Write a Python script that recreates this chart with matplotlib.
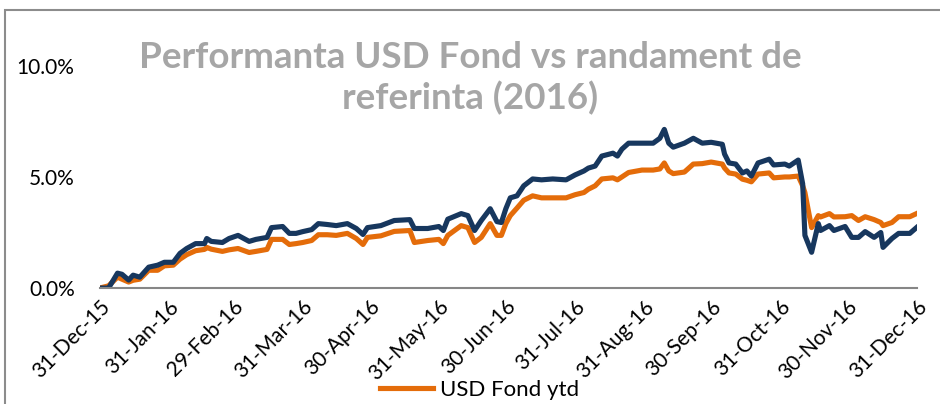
import matplotlib
matplotlib.use("Agg")
import matplotlib.pyplot as plt
import matplotlib.dates as mdates
import matplotlib.ticker as mticker
from matplotlib.patches import Rectangle
import pandas as pd

plt.rcParams['font.family'] = ['Lato', 'DejaVu Sans']

# date (randament ytd, %)
zile = ['2015-12-31', '2016-01-04', '2016-01-08', '2016-01-10', '2016-01-13', '2016-01-15',
        '2016-01-18', '2016-01-22', '2016-01-26', '2016-01-29', '2016-02-02', '2016-02-05',
        '2016-02-08', '2016-02-12', '2016-02-16', '2016-02-17', '2016-02-19', '2016-02-24',
        '2016-02-27', '2016-03-02', '2016-03-07', '2016-03-10', '2016-03-15', '2016-03-17',
        '2016-03-22', '2016-03-25', '2016-03-28', '2016-03-31', '2016-04-04', '2016-04-07',
        '2016-04-11', '2016-04-15', '2016-04-20', '2016-04-24', '2016-04-27', '2016-04-29',
        '2016-05-05', '2016-05-11', '2016-05-18', '2016-05-20', '2016-05-26', '2016-05-31',
        '2016-06-02', '2016-06-04', '2016-06-10', '2016-06-13', '2016-06-16', '2016-06-19',
        '2016-06-23', '2016-06-26', '2016-06-28', '2016-06-30', '2016-07-02', '2016-07-05',
        '2016-07-08', '2016-07-12', '2016-07-16', '2016-07-21', '2016-07-27', '2016-07-31',
        '2016-08-04', '2016-08-06', '2016-08-09', '2016-08-12', '2016-08-17', '2016-08-19',
        '2016-08-21', '2016-08-24', '2016-08-30', '2016-09-04', '2016-09-07', '2016-09-09',
        '2016-09-11', '2016-09-13', '2016-09-18', '2016-09-22', '2016-09-26', '2016-09-30',
        '2016-10-05', '2016-10-06', '2016-10-08', '2016-10-11', '2016-10-14', '2016-10-16',
        '2016-10-18', '2016-10-21', '2016-10-26', '2016-10-28', '2016-11-02', '2016-11-04',
        '2016-11-08', '2016-11-10', '2016-11-11', '2016-11-14', '2016-11-17', '2016-11-18',
        '2016-11-22', '2016-11-24', '2016-11-29', '2016-12-02', '2016-12-05', '2016-12-08',
        '2016-12-12', '2016-12-15', '2016-12-16', '2016-12-20', '2016-12-23', '2016-12-28',
        '2016-12-31']

referinta = [0, 0, 0.67, 0.62, 0.36, 0.58, 0.49, 0.94, 1.03, 1.16, 1.16, 1.56,
             1.78, 2.0, 2.0, 2.23, 2.1, 2.05, 2.23, 2.37, 2.1, 2.19, 2.28, 2.72,
             2.77, 2.46, 2.46, 2.54, 2.63, 2.9, 2.86, 2.81, 2.9, 2.68, 2.41, 2.72,
             2.81, 3.04, 3.08, 2.68, 2.68, 2.77, 2.59, 3.1, 3.35, 3.26, 2.59, 3.04,
             3.57, 2.99, 2.95, 3.57, 4.06, 4.15, 4.6, 4.91, 4.87, 4.91, 4.87, 5.09,
             5.27, 5.4, 5.49, 5.94, 6.07, 5.94, 6.25, 6.52, 6.52, 6.52, 6.74, 7.14,
             6.52, 6.34, 6.52, 6.74, 6.52, 6.56, 6.47, 6.03, 5.63, 5.58, 5.18, 5.27,
             5.04, 5.63, 5.8, 5.54, 5.58, 5.49, 5.76, 4.69, 2.37, 1.61, 2.9, 2.59,
             2.81, 2.59, 2.77, 2.28, 2.28, 2.54, 2.28, 2.5, 1.83, 2.23, 2.46, 2.46,
             2.72]

fond = [0, 0.1, 0.49, 0.4, 0.27, 0.35, 0.4, 0.8, 0.8, 1.0, 1.03, 1.3,
        1.5, 1.68, 1.74, 1.83, 1.75, 1.65, 1.72, 1.78, 1.6, 1.65, 1.74, 2.19,
        2.19, 1.96, 2.0, 2.05, 2.14, 2.4, 2.4, 2.37, 2.46, 2.23, 1.96, 2.28,
        2.35, 2.55, 2.59, 2.05, 2.14, 2.19, 2.0, 2.37, 2.81, 2.72, 2.05, 2.28,
        2.9, 2.37, 2.37, 2.9, 3.26, 3.6, 3.95, 4.15, 4.06, 4.06, 4.06, 4.2,
        4.3, 4.45, 4.6, 4.91, 4.96, 4.87, 5.0, 5.2, 5.31, 5.31, 5.36, 5.63,
        5.27, 5.15, 5.22, 5.58, 5.6, 5.67, 5.58, 5.4, 5.18, 5.13, 4.9, 4.85,
        4.78, 5.13, 5.18, 4.96, 5.0, 5.0, 5.04, 4.6, 4.3, 2.72, 3.26, 3.2,
        3.35, 3.2, 3.21, 3.26, 3.04, 3.21, 3.08, 2.95, 2.81, 2.95, 3.21, 3.21,
        3.35]

capete_luna = ['2015-12-31', '2016-01-31', '2016-02-29', '2016-03-31', '2016-04-30',
               '2016-05-31', '2016-06-30', '2016-07-31', '2016-08-31', '2016-09-30',
               '2016-10-31', '2016-11-30', '2016-12-31']

zile = pd.to_datetime(zile)
capete_luna = pd.to_datetime(capete_luna)

fig = plt.figure(figsize=(9.4, 4.04), dpi=100)
ax = fig.add_axes([0.106, 0.287, 0.869, 0.55])

linie_fond, = ax.plot(zile, fond, color='#E46C0A', linewidth=3.7, label='USD Fond ytd')
ax.plot(zile, referinta, color='#17375E', linewidth=3.7)

ax.set_xlim(capete_luna[0], capete_luna[-1])
ax.set_ylim(0, 10)
ax.set_yticks([0, 5, 10])
ax.yaxis.set_major_formatter(mticker.FuncFormatter(lambda v, p: f'{v:.1f}%'))
ax.set_xticks(capete_luna)
ax.xaxis.set_major_formatter(mdates.DateFormatter('%d-%b-%y'))
ax.tick_params(axis='both', length=0, labelsize=15, colors='black')
ax.tick_params(axis='y', pad=18)
ax.tick_params(axis='x', pad=6)
for t in ax.get_xticklabels():
    t.set_rotation(45)
    t.set_ha('right')
    t.set_va('top')
    t.set_rotation_mode('anchor')

for s in ['top', 'right', 'left']:
    ax.spines[s].set_visible(False)
ax.spines['bottom'].set_color('#868686')
ax.spines['bottom'].set_linewidth(1.5)

fig.text(0.5, 0.807, 'Performanta USD Fond vs randament de\nreferinta (2016)',
         ha='center', va='center', fontsize=26.5, fontweight='bold', color='#A6A6A6',
         linespacing=1.25)

fig.legend(handles=[linie_fond], loc='center', bbox_to_anchor=(0.51, 0.035),
           frameon=False, fontsize=16, handlelength=2.4, handletextpad=0.3)

fig.patches.append(Rectangle((5 / 940, -0.1), 1.2, 1 - 10 / 404 + 0.1,
                             transform=fig.transFigure, fill=False,
                             edgecolor='#8C8C8C', linewidth=1.5))

fig.savefig('out.png', dpi=100)
